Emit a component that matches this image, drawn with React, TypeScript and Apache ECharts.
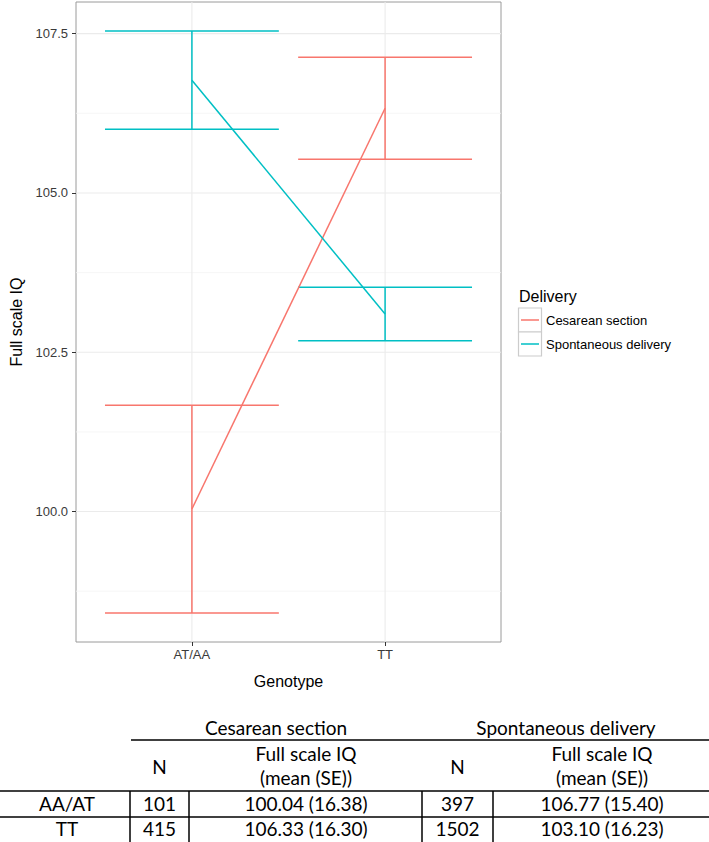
import React, { useEffect, useRef } from "react";
import * as echarts from "echarts";

// ---- data ----
const genotypes = ["AT/AA", "TT"];
const deliveries = ["Cesarean section", "Spontaneous delivery"];
const seriesColors = ["#F8766D", "#00BFC4"];

const cesMean = [100.04, 106.33];
const cesLower = [98.41, 105.53];
const cesUpper = [101.67, 107.13];

const spoMean = [106.77, 103.1];
const spoLower = [106.0, 102.68];
const spoUpper = [107.54, 103.52];

const yTicks = [100, 102.5, 105, 107.5];
const yMinor = [98.75, 101.25, 103.75, 106.25];
const yMin = 97.953;
const yMax = 107.997;

// table
const tableRows = ["AA/AT", "TT"];
const cesN = [101, 415];
const cesSD = [16.38, 16.3];
const spoN = [397, 1502];
const spoSD = [15.4, 16.23];

const W = 709;
const H = 842;

export default function App() {
  const ref = useRef<HTMLDivElement>(null);

  useEffect(() => {
    document.body.style.margin = "0";
    const chart = echarts.init(ref.current!, null, { renderer: "svg" });

    const xPos = genotypes.map((_, i) => i + 1);
    const mkErr = (lo: number[], hi: number[]) => xPos.map((x, i) => [x, lo[i], hi[i]]);
    const errSeries = (name: string, data: number[][], color: string) => ({
      type: "custom",
      name,
      z: 3,
      silent: true,
      data,
      encode: { x: 0, y: [1, 2] },
      renderItem: (params: any, api: any) => {
        const x = api.value(0);
        const pLo = api.coord([x, api.value(1)]);
        const pHi = api.coord([x, api.value(2)]);
        const w = api.size([0.9, 0])[0];
        const st = { stroke: color, lineWidth: 1.5, fill: "none" };
        return {
          type: "group",
          children: [
            { type: "line", shape: { x1: pLo[0], y1: pLo[1], x2: pHi[0], y2: pHi[1] }, style: st },
            { type: "line", shape: { x1: pLo[0] - w / 2, y1: pLo[1], x2: pLo[0] + w / 2, y2: pLo[1] }, style: st },
            { type: "line", shape: { x1: pHi[0] - w / 2, y1: pHi[1], x2: pHi[0] + w / 2, y2: pHi[1] }, style: st },
          ],
        };
      },
    });

    const hGrid = (vals: number[], color: string, lw: number) => ({
      type: "custom",
      z: 1,
      silent: true,
      data: vals.map((v) => [1, v]),
      encode: { x: 0, y: 1 },
      renderItem: (params: any, api: any) => {
        const cs = params.coordSys;
        const y = api.coord([1, api.value(1)])[1];
        return {
          type: "line",
          shape: { x1: cs.x, y1: y, x2: cs.x + cs.width, y2: y },
          style: { stroke: color, lineWidth: lw },
        };
      },
    });
    const vGrid = {
      type: "custom",
      z: 1,
      silent: true,
      data: xPos.map((x) => [x, yTicks[0]]),
      encode: { x: 0, y: 1 },
      renderItem: (params: any, api: any) => {
        const cs = params.coordSys;
        const x = api.coord([api.value(0), yTicks[0]])[0];
        return {
          type: "line",
          shape: { x1: x, y1: cs.y, x2: x, y2: cs.y + cs.height },
          style: { stroke: "#ebebeb", lineWidth: 1.1 },
        };
      },
    };

    const lineSeries = (name: string, means: number[], color: string) => ({
      type: "line",
      name,
      z: 3,
      silent: true,
      symbol: "none",
      data: xPos.map((x, i) => [x, means[i]]),
      lineStyle: { color, width: 1.5 },
      itemStyle: { color },
    });

    // legend (graphic)
    const legendEls: any[] = [
      {
        type: "text",
        x: 519,
        y: 296,
        style: { text: "Delivery", fontFamily: "Liberation Sans", fontSize: 16, fill: "#000", align: "left", verticalAlign: "middle", textAlign: "left", textVerticalAlign: "middle" },
      },
    ];
    deliveries.forEach((d, i) => {
      const top = 308 + i * 24;
      legendEls.push(
        { type: "rect", shape: { x: 518.5, y: top, width: 23, height: 24 }, style: { fill: "#fff", stroke: "#cccccc", lineWidth: 1.2 } },
        { type: "line", shape: { x1: 521, y1: top + 12, x2: 539, y2: top + 12 }, style: { stroke: seriesColors[i], lineWidth: 1.5 } },
        {
          type: "text",
          x: 546,
          y: top + 12,
          style: { text: d, fontFamily: "Liberation Sans", fontSize: 13, fill: "#000", align: "left", verticalAlign: "middle", textAlign: "left", textVerticalAlign: "middle" },
        }
      );
    });

    // table (graphic)
    const tFont = { fontFamily: "Lato", fontSize: 19, fill: "#000" };
    const txt = (text: string, x: number, y: number) => ({
      type: "text",
      x,
      y,
      style: { ...tFont, text, align: "center", verticalAlign: "middle", textAlign: "center", textVerticalAlign: "middle" },
    });
    const ln = (x1: number, y1: number, x2: number, y2: number) => ({
      type: "line",
      shape: { x1, y1, x2, y2 },
      style: { stroke: "#000", lineWidth: 1.5 },
    });
    const colN1 = 159.5, colIQ1 = 306, colN2 = 457.5, colIQ2 = 602;
    const tableEls: any[] = [
      txt(deliveries[0], 276, 727),
      txt(deliveries[1], 566, 727),
      ln(131, 740, W, 740),
      txt("N", colN1, 766),
      txt("Full scale IQ", colIQ1, 753),
      txt("(mean (SE))", colIQ1, 777),
      txt("N", colN2, 766),
      txt("Full scale IQ", colIQ2, 753),
      txt("(mean (SE))", colIQ2, 777),
      ln(0, 791, W, 791),
      ln(0, 817, W, 817),
      ln(130, 791, 130, H),
      ln(189, 791, 189, H),
      ln(422, 791, 422, H),
      ln(493, 791, 493, H),
    ];
    tableRows.forEach((r, i) => {
      const y = 803 + i * 25;
      tableEls.push(
        txt(r, 67, y),
        txt(String(cesN[i]), colN1, y),
        txt(`${cesMean[i].toFixed(2)} (${cesSD[i].toFixed(2)})`, colIQ1, y),
        txt(String(spoN[i]), colN2, y),
        txt(`${spoMean[i].toFixed(2)} (${spoSD[i].toFixed(2)})`, colIQ2, y)
      );
    });

    chart.setOption({
      animation: false,
      backgroundColor: "#fff",
      textStyle: { fontFamily: "Liberation Sans" },
      grid: {
        left: 74,
        right: W - 501,
        top: 2,
        bottom: H - 642,
        show: true,
        borderColor: "#9a9a9a",
        borderWidth: 1,
        backgroundColor: "#fff",
        z: 0,
      },
      xAxis: {
        type: "value",
        min: 0.4,
        max: 2.6,
        name: "Genotype",
        nameLocation: "middle",
        nameGap: 31,
        nameTextStyle: { fontFamily: "Liberation Sans", fontSize: 16, color: "#000" },
        axisLine: { show: false },
        axisTick: { show: true, length: 4, lineStyle: { color: "#333", width: 1 }, customValues: xPos },
        axisLabel: {
          customValues: xPos,
          margin: 6,
          fontFamily: "Liberation Sans",
          fontSize: 13,
          color: "#3a3a3a",
          formatter: (v: number) => genotypes[Math.round(v) - 1] ?? "",
        },
        splitLine: { show: false },
      },
      yAxis: {
        type: "value",
        min: yMin,
        max: yMax,
        name: "Full scale IQ",
        nameLocation: "middle",
        nameGap: 52,
        nameTextStyle: { fontFamily: "Liberation Sans", fontSize: 16, color: "#000" },
        axisLine: { show: false },
        axisTick: { show: true, length: 4, lineStyle: { color: "#333", width: 1 }, customValues: yTicks },
        axisLabel: {
          customValues: yTicks,
          margin: 8,
          fontFamily: "Liberation Sans",
          fontSize: 13,
          color: "#3a3a3a",
          formatter: (v: number) => v.toFixed(1),
        },
        splitLine: { show: false },
      },
      series: [
        hGrid(yMinor, "#f4f4f4", 0.8),
        hGrid(yTicks, "#ebebeb", 1.1),
        vGrid,
        errSeries(deliveries[0], mkErr(cesLower, cesUpper), seriesColors[0]),
        errSeries(deliveries[1], mkErr(spoLower, spoUpper), seriesColors[1]),
        lineSeries(deliveries[0], cesMean, seriesColors[0]),
        lineSeries(deliveries[1], spoMean, seriesColors[1]),
      ],
      graphic: [...legendEls, ...tableEls],
    });

    return () => chart.dispose();
  }, []);

  return <div ref={ref} style={{ width: W, height: H }} />;
}
